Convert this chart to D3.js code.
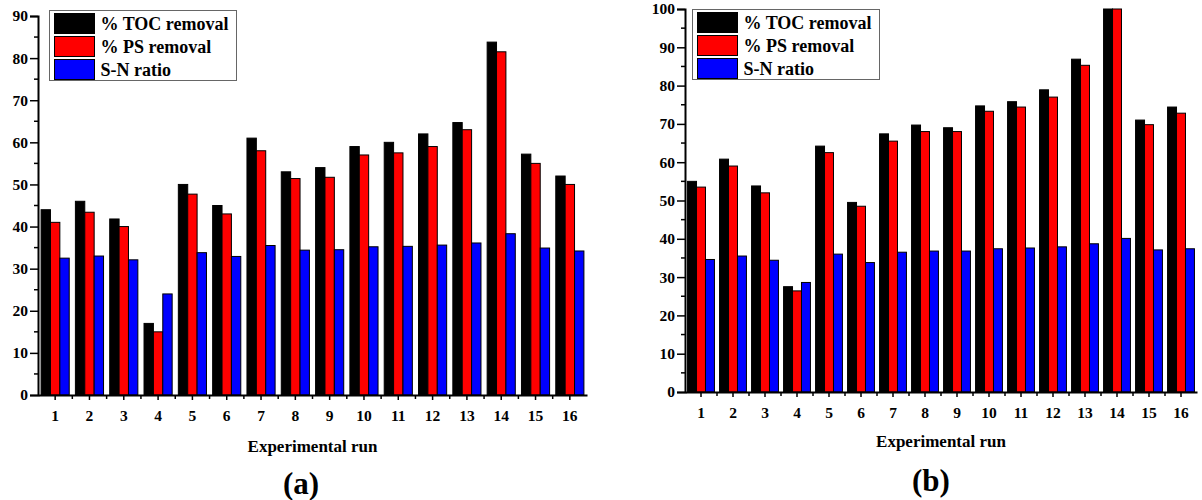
<!DOCTYPE html>
<html>
<head>
<meta charset="utf-8">
<script src="https://cdn.jsdelivr.net/npm/d3@7/dist/d3.min.js"></script>
<style>
  html, body { margin: 0; padding: 0; background: #fff; }
  svg { display: block; }
  svg text { font-family: "Times New Roman", "Liberation Serif", Times, serif !important; font-weight: bold; fill: #000; }
</style>
</head>
<body>
<svg id="chart" width="1202" height="500"></svg>
<script>
// Experimental runs (x categories)
const runs = ["1","2","3","4","5","6","7","8","9","10","11","12","13","14","15","16"];
const seriesNames = ["% TOC removal", "% PS removal", "S-N ratio"];
const seriesColors = ["#000000", "#ff0000", "#0000ff"];

// Panel (a)
const tocA = [44, 46, 41.8, 17, 50, 45, 61, 53, 54, 59, 60, 62, 64.7, 83.8, 57.2, 52];
const psA  = [41, 43.4, 40, 15, 47.7, 43, 58, 51.4, 51.7, 57, 57.5, 59, 63, 81.5, 55, 50];
const snA  = [32.5, 33, 32.1, 24, 33.8, 32.9, 35.5, 34.4, 34.5, 35.2, 35.3, 35.6, 36.1, 38.3, 34.9, 34.2];
const yTicksA = [0, 10, 20, 30, 40, 50, 60, 70, 80, 90];

// Panel (b)
const tocB = [55, 60.8, 53.8, 27.5, 64.2, 49.5, 67.4, 69.7, 69, 74.7, 75.8, 78.9, 86.9, 100, 71, 74.4];
const psB  = [53.5, 59, 52, 26.4, 62.5, 48.5, 65.5, 68, 68, 73.3, 74.4, 77, 85.3, 100, 69.8, 72.8];
const snB  = [34.6, 35.5, 34.4, 28.6, 36, 33.8, 36.5, 36.8, 36.8, 37.4, 37.6, 37.9, 38.7, 40.1, 37.1, 37.4];
const yTicksB = [0, 10, 20, 30, 40, 50, 60, 70, 80, 90, 100];

const FONT = '"Times New Roman", "Liberation Serif", Times, serif';
const svg = d3.select("#chart");

function drawPanel(opt) {
  const g = svg.append("g");
  const series = [opt.toc, opt.ps, opt.sn];

  const x = d3.scaleBand().domain(runs).range([opt.x0, opt.x1]).paddingInner(opt.pad).paddingOuter(opt.pad / 2);
  const xs = d3.scaleBand().domain([0, 1, 2]).range([0, x.bandwidth()]);
  const y = d3.scaleLinear().domain([0, opt.yMax]).range([opt.y0, opt.yTop]);

  // bars
  series.forEach((vals, si) => {
    g.append("g").selectAll("rect")
      .data(vals.map((v, i) => ({ run: runs[i], v })))
      .join("rect")
      .attr("x", d => x(d.run) + xs(si))
      .attr("y", d => y(d.v))
      .attr("width", xs.bandwidth())
      .attr("height", d => y(0) - y(d.v))
      .attr("fill", seriesColors[si])
      .attr("stroke", "#000")
      .attr("stroke-width", 1);
  });

  // y axis: major ticks with labels, minor ticks at the half-steps
  const yAxis = d3.axisLeft(y).tickValues(opt.yTicks).tickSize(8).tickPadding(2).tickFormat(d3.format("d"));
  const ya = g.append("g").attr("transform", `translate(${opt.x0},0)`).call(yAxis)
    .attr("font-family", FONT).attr("font-size", 15.5);
  ya.select(".domain").attr("stroke-width", 2);
  ya.selectAll(".tick line").attr("stroke-width", 1.5);
  const yMinor = d3.range(5, opt.yMax, 10);
  g.append("g").selectAll("line").data(yMinor).join("line")
    .attr("x1", opt.x0 - 4).attr("x2", opt.x0)
    .attr("y1", d => y(d)).attr("y2", d => y(d))
    .attr("stroke", "#000").attr("stroke-width", 1.5);

  // x axis: ticks at run centres, minor ticks between runs
  const xAxis = d3.axisBottom(x).tickSize(5).tickPadding(10).tickSizeOuter(0);
  const xa = g.append("g").attr("transform", `translate(0,${opt.y0})`).call(xAxis)
    .attr("font-family", FONT).attr("font-size", 15.5);
  xa.select(".domain").attr("stroke-width", 2);
  xa.selectAll(".tick line").attr("stroke-width", 1.5);
  const step = x.step();
  const xMinor = runs.map(r => x(r) + x.bandwidth() / 2 + step / 2).slice(0, -1);
  g.append("g").selectAll("line").data(xMinor).join("line")
    .attr("x1", d => d).attr("x2", d => d)
    .attr("y1", opt.y0).attr("y2", opt.y0 + 4)
    .attr("stroke", "#000").attr("stroke-width", 1.5);

  // axis title and panel label
  g.append("text").attr("x", (opt.x0 + opt.x1) / 2).attr("y", opt.titleY)
    .attr("text-anchor", "middle").attr("font-size", 17).text("Experimental run");
  g.append("text").attr("x", opt.tagX).attr("y", opt.tagY)
    .attr("text-anchor", "middle").attr("font-size", 31).text(opt.tag);

  // legend
  const lg = g.append("g").attr("transform", `translate(${opt.legX},${opt.legY})`);
  lg.append("rect").attr("x", 0).attr("y", 0).attr("width", opt.legW).attr("height", 70)
    .attr("fill", "#fff").attr("stroke", "#666").attr("stroke-width", 1);
  seriesNames.forEach((name, i) => {
    lg.append("rect").attr("x", 5).attr("y", 3 + i * 23).attr("width", 40).attr("height", 20)
      .attr("fill", seriesColors[i]).attr("stroke", "#000").attr("stroke-width", 1);
    lg.append("text").attr("x", 51).attr("y", 19 + i * 23).attr("font-size", 18).text(name);
  });
}

drawPanel({
  toc: tocA, ps: psA, sn: snA, yTicks: yTicksA, yMax: 90,
  x0: 38, x1: 587, y0: 395, yTop: 16, pad: 0.18,
  titleY: 452, tag: "(a)", tagX: 301, tagY: 494,
  legX: 49.5, legY: 10.5, legW: 187
});

drawPanel({
  toc: tocB, ps: psB, sn: snB, yTicks: yTicksB, yMax: 100,
  x0: 685, x1: 1197, y0: 392, yTop: 9, pad: 0.16,
  titleY: 447, tag: "(b)", tagX: 931, tagY: 491,
  legX: 692.5, legY: 9.5, legW: 187
});
</script>
</body>
</html>
